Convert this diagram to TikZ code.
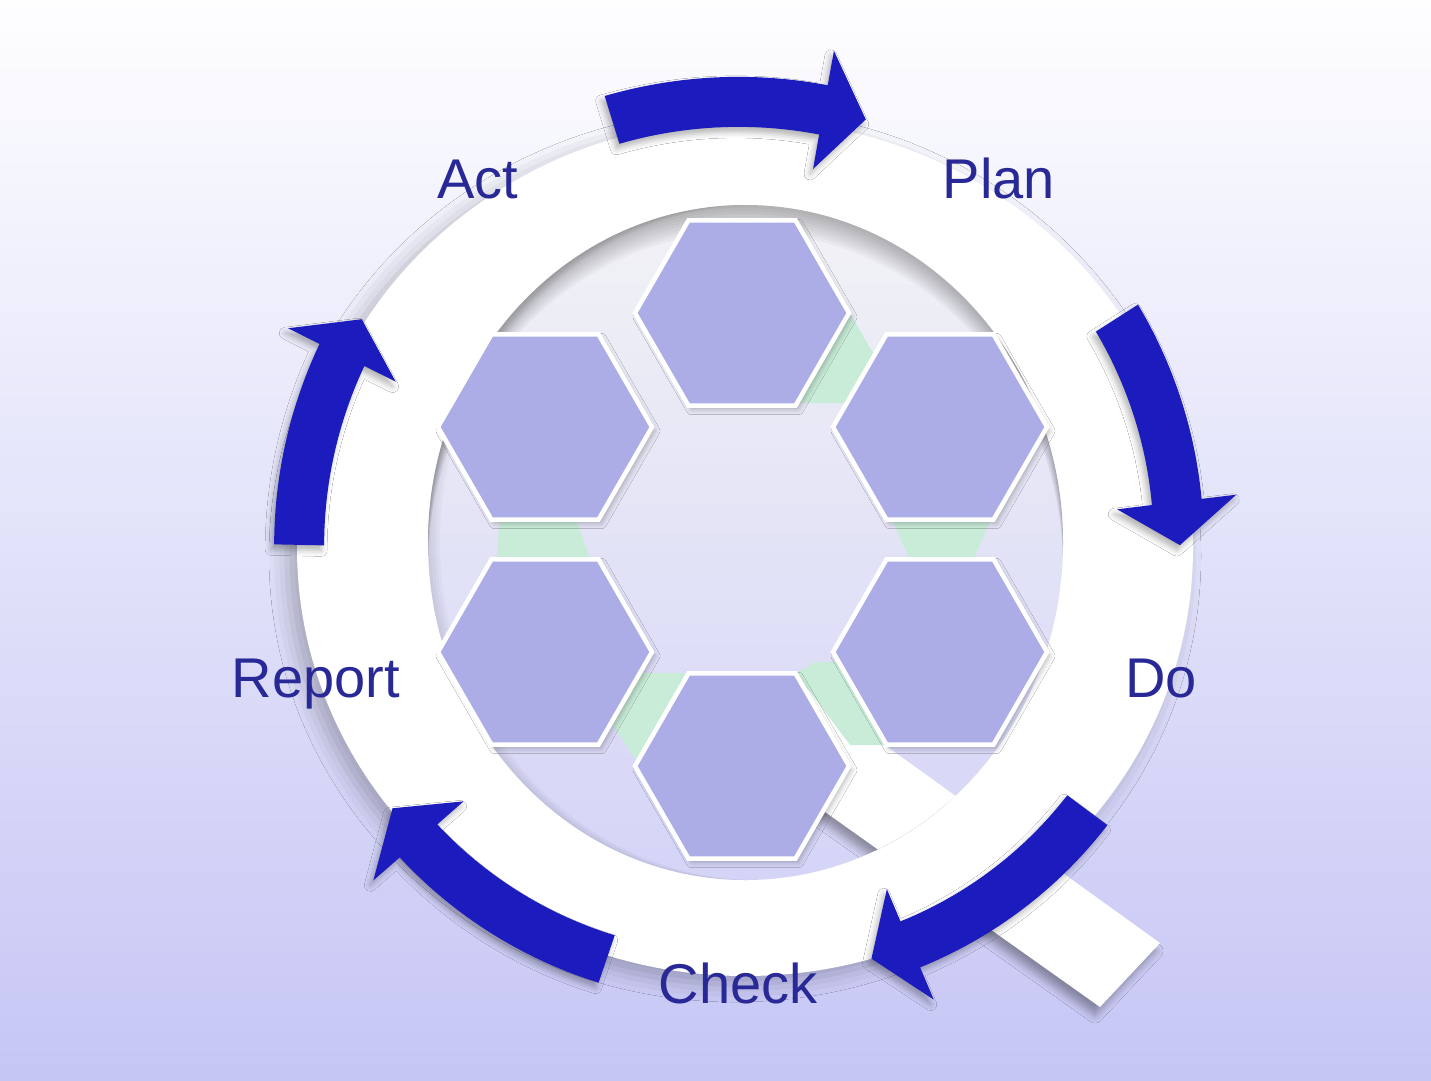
\documentclass[tikz,border=0pt]{standalone}
\usepackage{fontspec}
\setmainfont{Liberation Sans}
\usetikzlibrary{shapes.geometric,shadows.blur}
\definecolor{bgtop}{RGB}{254,254,255}
\definecolor{bgmid}{RGB}{232,232,250}
\definecolor{bgbot}{RGB}{198,198,245}
\definecolor{holetop}{RGB}{242,242,246}
\definecolor{holebot}{RGB}{212,212,247}
\definecolor{hexfill}{RGB}{172,172,230}
\definecolor{mint}{RGB}{200,236,216}
\definecolor{arrowblue}{RGB}{28,28,190}
\definecolor{labelblue}{RGB}{40,40,150}
\tikzset{
  hexa/.style={regular polygon, regular polygon sides=6, minimum size=214pt,
    inner sep=0pt, outer sep=0pt, fill=hexfill, draw=white, line width=4.5pt,
    blur shadow={shadow xshift=3pt, shadow yshift=-4pt, shadow blur radius=5pt, shadow opacity=25}},
  mintpiece/.style={fill=mint},
  arrowshape/.style={fill=arrowblue,
    blur shadow={shadow xshift=-3pt, shadow yshift=-5pt, shadow blur radius=6pt, shadow opacity=30}},
  ringshadow/.style={blur shadow={shadow xshift=-10pt, shadow yshift=-8pt, shadow blur radius=18pt, shadow opacity=25}},
  tailshadow/.style={blur shadow={shadow xshift=-5pt, shadow yshift=-8pt, shadow blur radius=8pt, shadow opacity=35}},
  lbl/.style={text=labelblue, font=\fontsize{56}{60}\selectfont, inner sep=0pt, anchor=base},
}
% #1 start angle, #2 head-base angle, #3 start radius, #4 end radius, #5 tip angle
\newcommand\pdcaArrow[5]{%
  \fill[arrowshape]
    plot[variable=\t, domain=0:1, samples=30]
      ({745+((#3)+((#4)-(#3))*\t+25)*cos((#1)+((#2)-(#1))*\t)},
       {555+((#3)+((#4)-(#3))*\t+25)*sin((#1)+((#2)-(#1))*\t)})
    -- ({745+((#4)+60)*cos(#2)}, {555+((#4)+60)*sin(#2)})
    -- ({745+(#4)*cos(#5)}, {555+(#4)*sin(#5)})
    -- ({745+((#4)-60)*cos(#2)}, {555+((#4)-60)*sin(#2)})
    -- plot[variable=\t, domain=0:1, samples=30]
      ({745+((#4)+((#3)-(#4))*\t-25)*cos((#2)+((#1)-(#2))*\t)},
       {555+((#4)+((#3)-(#4))*\t-25)*sin((#2)+((#1)-(#2))*\t)})
    -- cycle;}
\begin{document}
\begin{tikzpicture}[x=1pt,y=-1pt]
\useasboundingbox (0,0) rectangle (1431,1080);
\shade[top color=bgtop, middle color=bgmid, bottom color=bgbot] (0,0) rectangle (1431,1080);

% Q tail (outer part)
\fill[white, tailshadow] (800,684) -- (1160,943) -- (1100,1007) -- (780,780) -- cycle;

% ring
\fill[white, ringshadow] (745,548) ellipse [x radius=448, y radius=428];

% hole
\begin{scope}
  \clip (745.5,542.5) ellipse [x radius=317.5, y radius=337.5];
  \shade[top color=holetop, bottom color=holebot] (745.5,542.5) ellipse [x radius=317.5, y radius=337.5];
  \foreach \d in {3,6,...,27} {
    \fill[black, opacity=0.03, even odd rule] (300,100) rectangle (1200,1000)
      (745.5,542.5+\d) ellipse [x radius=317.5, y radius=337.5];
  }
  \foreach \d in {3,6,9,12} {
    \fill[black, opacity=0.025, even odd rule] (300,100) rectangle (1200,1000)
      (745.5+\d,542.5) ellipse [x radius=317.5, y radius=337.5];
  }
  \fill[white, tailshadow] (800,684) -- (1160,943) -- (1100,1007) -- (780,780) -- cycle;
\end{scope}

% mint connecting pieces
\fill[mintpiece] (849,312) -- (882,368) -- (852,403) -- (797,403) -- cycle;
\fill[mintpiece] (888,510) -- (995,510) -- (969,570) -- (914,570) -- cycle;
\fill[mintpiece] (796,673) -- (815,662) -- (840,662) -- (890,745) -- (850,745) -- cycle;
\fill[mintpiece] (636,673) -- (692,673) -- (640,766) -- (608,718) -- cycle;
\fill[mintpiece] (500,510) -- (573,510) -- (594,570) -- (496,570) -- cycle;

% hexagons
\node[hexa] (h1) at (742,313) {};
\node[hexa] (h2) at (940,427) {};
\node[hexa] (h3) at (940,652) {};
\node[hexa] (h4) at (742,766) {};
\node[hexa] (h5) at (545,652) {};
\node[hexa] (h6) at (545,427) {};

% cycle arrows
\pdcaArrow{-107}{-80}{455}{452}{-74.5}
\pdcaArrow{-32.5}{-7}{441}{435}{-1.3}
\pdcaArrow{36.7}{67}{427}{423}{72.6}
\pdcaArrow{108.9}{138.8}{427}{434}{144.3}
\pdcaArrow{181.3}{206.4}{446}{450}{211.6}

% labels
\node[lbl] (act) at (478,198) {Act};
\node[lbl] (plan) at (999,198) {Plan};
\node[lbl] (do) at (1161,697) {Do};
\node[lbl] (report) at (316,697) {Report};
\node[lbl] (check) at (738,1003) {Check};
\end{tikzpicture}
\end{document}
